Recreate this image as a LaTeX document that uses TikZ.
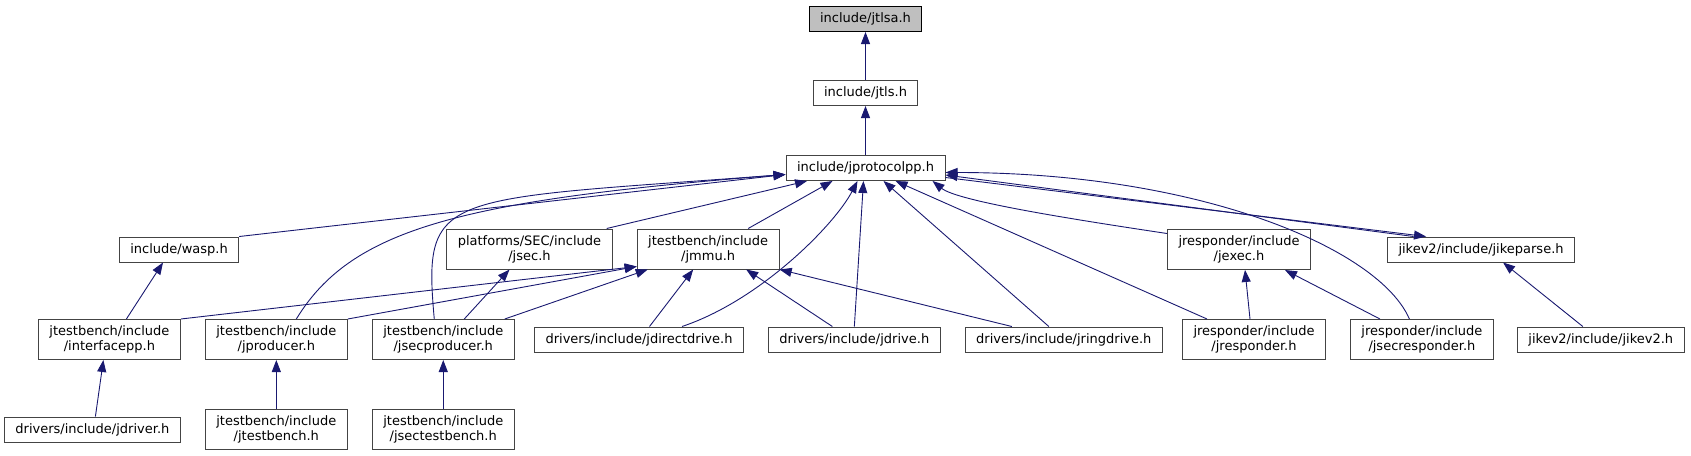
\documentclass[tikz,border=0pt]{standalone}
\usepackage{fontspec}
\setmainfont{DejaVu Sans}
\usepackage{xcolor}
\definecolor{CEdge}{HTML}{191970}
\definecolor{CBorder}{HTML}{444444}
\definecolor{CRootFill}{HTML}{BFBFBF}
\usepackage{tikz}
\usetikzlibrary{arrows.meta,positioning}
\newcommand{\nodefont}{\fontsize{13}{15}\selectfont}
\tikzstyle{fileNode}=[rectangle, draw=CBorder, fill=white, line width=1pt,
  inner xsep=11pt, inner ysep=2pt, minimum height=25pt, align=center, font=\nodefont]
\tikzstyle{rootNode}=[fileNode, draw=black, fill=CRootFill]
\tikzstyle{twoLine}=[minimum height=40pt]
\tikzstyle{dep}=[-{Triangle[length=12pt,width=9pt]}, line width=0.9pt, draw=CEdge]

\begin{document}
\begin{tikzpicture}[x=1pt, y=1pt]
\useasboundingbox (0,0) rectangle (1691,-455);
\node[rootNode] (jtlsa) at (865.5,-19) {include/jtlsa.h};
\node[fileNode, below=48pt of jtlsa] (jtls) {include/jtls.h};
\node[fileNode, below=49pt of jtls] (jprotocolpp) {include/jprotocolpp.h};
% third row
\node[fileNode] (wasp) at (179,-249.5) {include/wasp.h};
\node[fileNode, twoLine] (jsec) at (529.5,-249) {platforms/SEC/include\\/jsec.h};
\node[fileNode, twoLine, right=24pt of jsec] (jmmu) {jtestbench/include\\/jmmu.h};
\node[fileNode, twoLine] (jexec) at (1239,-249.5) {jresponder/include\\/jexec.h};
\node[fileNode, right=76pt of jexec] (jikeparse) {jikev2/include/jikeparse.h};
% fourth row
\node[fileNode, twoLine] (interfacepp) at (109.4,-339.5) {jtestbench/include\\/interfacepp.h};
\node[fileNode, twoLine, right=24pt of interfacepp] (jproducer) {jtestbench/include\\/jproducer.h};
\node[fileNode, twoLine, right=24pt of jproducer] (jsecproducer) {jtestbench/include\\/jsecproducer.h};
\node[fileNode] (jdirectdrive) at (639,-339.5) {drivers/include/jdirectdrive.h};
\node[fileNode, right=24pt of jdirectdrive] (jdrive) {drivers/include/jdrive.h};
\node[fileNode, right=24pt of jdrive] (jringdrive) {drivers/include/jringdrive.h};
\node[fileNode, twoLine] (jresponder) at (1254,-339.5) {jresponder/include\\/jresponder.h};
\node[fileNode, twoLine, right=24pt of jresponder] (jsecresponder) {jresponder/include\\/jsecresponder.h};
\node[fileNode, right=23pt of jsecresponder] (jikev2) {jikev2/include/jikev2.h};
% bottom row
\node[fileNode, twoLine, below=49pt of jproducer] (jtestbench) {jtestbench/include\\/jtestbench.h};
\node[fileNode, twoLine, below=49pt of jsecproducer] (jsectestbench) {jtestbench/include\\/jsectestbench.h};
\node[fileNode, left=24pt of jtestbench] (jdriver) {drivers/include/jdriver.h};
% edges
\draw[dep] (jtls.north) -- (jtlsa.south);
\draw[dep] (jprotocolpp.north) -- (jtls.south);
\draw[dep] (wasp.north east) -- ([yshift=-6.5pt]jprotocolpp.west);
\draw[dep] ([xshift=20pt]jproducer.north) .. controls +(55,90) and +(-326.5,-26) .. ([yshift=-6.5pt]jprotocolpp.west);
\draw[dep] ([xshift=-9pt]jsecproducer.north) .. controls +(-11.6,129) and +(-346.5,-26) .. ([yshift=-6.5pt]jprotocolpp.west);
\draw[dep] ([xshift=-6pt]jsec.north east) -- ([xshift=21.5pt]jprotocolpp.south west);
\draw[dep] ([xshift=40pt]jmmu.north) -- ([xshift=-33pt]jprotocolpp.south);
\draw[dep] ([xshift=43pt]jdirectdrive.north) .. controls +(78,26) and +(-23,-44) .. ([xshift=-8pt]jprotocolpp.south);
\draw[dep] (jdrive.north) -- ([xshift=-2pt]jprotocolpp.south);
\draw[dep] ([xshift=-15pt]jringdrive.north) -- ([xshift=18pt]jprotocolpp.south);
\draw[dep] ([xshift=-47pt]jresponder.north) -- ([xshift=30pt]jprotocolpp.south);
\draw[dep] ([yshift=16pt]jexec.west) .. controls +(-100,15) and +(25,-20) .. ([xshift=-13pt]jprotocolpp.south east);
\draw[dep] ([xshift=-12.6pt]jsecresponder.north) .. controls +(-30,70) and +(255,0) .. ([yshift=-4.5pt]jprotocolpp.east);
\draw[dep] ([xshift=-67.5pt]jikeparse.north) -- ([yshift=-7pt]jprotocolpp.east);
\draw[dep] ([yshift=-9.5pt]jprotocolpp.east) -- ([xshift=-55pt]jikeparse.north);
\draw[dep] (interfacepp.north east) -- ([yshift=-17.5pt]jmmu.west);
\draw[dep] (jproducer.north east) -- ([yshift=-17.5pt]jmmu.west);
\draw[dep] ([xshift=-10pt]jsecproducer.north east) -- ([xshift=11pt]jmmu.south west);
\draw[dep] ([xshift=10.5pt]jdirectdrive.north) -- ([xshift=-15pt]jmmu.south);
\draw[dep] ([xshift=-22pt]jdrive.north) -- ([xshift=38pt]jmmu.south);
\draw[dep] ([xshift=-52pt]jringdrive.north) -- (jmmu.south east);
\draw[dep] ([xshift=21pt]jsecproducer.north) -- ([xshift=-20pt]jsec.south);
\draw[dep] ([xshift=17pt]interfacepp.north) -- ([xshift=-16pt]wasp.south);
\draw[dep] ([xshift=3pt]jdriver.north) -- ([xshift=-6pt]interfacepp.south);
\draw[dep] (jtestbench.north) -- (jproducer.south);
\draw[dep] (jsectestbench.north) -- (jsecproducer.south);
\draw[dep] ([xshift=-4pt]jresponder.north) -- ([xshift=6pt]jexec.south);
\draw[dep] ([xshift=-42pt]jsecresponder.north) -- ([xshift=46pt]jexec.south);
\draw[dep] ([xshift=-18pt]jikev2.north) -- ([xshift=22pt]jikeparse.south);
\end{tikzpicture}
\end{document}
